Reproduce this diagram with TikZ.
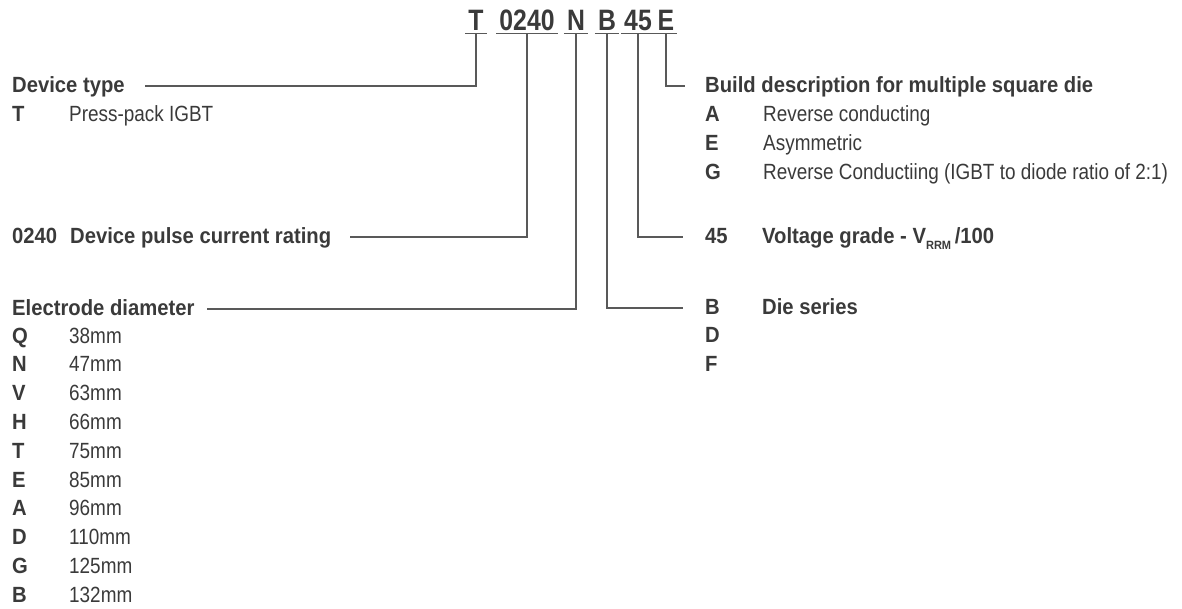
\documentclass[tikz,border=0pt]{standalone}
\usepackage{fontspec}
\setmainfont{Liberation Sans}
\newfontfamily\codefont[FakeStretch=0.84]{Liberation Sans}
\newfontfamily\headfont[FakeStretch=0.92]{Liberation Sans}
\newfontfamily\bodyfont[FakeStretch=0.86]{Liberation Sans}
\usepackage{tikz}
\usetikzlibrary{positioning, calc}
\definecolor{ktext}{HTML}{3A3A3A}
\definecolor{kline}{HTML}{595959}
\tikzset{
  code/.style={font=\codefont\bfseries\fontsize{29.5}{32}\selectfont, text=ktext, anchor=base, inner xsep=3pt, inner ysep=3pt, text depth=0pt},
  head/.style={font=\headfont\bfseries\fontsize{22}{26}\selectfont, text=ktext, anchor=base west, inner sep=0pt, text height=14pt, text depth=2pt},
  key/.style={head},
  desc/.style={font=\bodyfont\fontsize{22}{26}\selectfont, text=ktext, anchor=base west, inner sep=0pt},
  link/.style={draw=kline, line width=1.1pt},
}

\begin{document}
\begin{tikzpicture}[x=1pt, y=-1pt]
\useasboundingbox (0,0) rectangle (1182,608);
% part number
\node[code] (cT) at (476,30) {T};
\node[code] (c0240) at (527,30) {0240};
\node[code] (cN) at (576,30) {N};
\node[code] (cB) at (607,30) {B};
\node[code] (c45) at (638,30) {45};
\node[code] (cE) at (666,30) {E};
\foreach \c in {cT,c0240,cN,cB,c45,cE}
  \draw[link] (\c.south west) -- (\c.south east);
% device type
\node[head] (devtype) at (12,92) {Device type};
\node[key] (devT) at (12,121) {T};
\node[desc] (devTd) at (69,121) {Press-pack IGBT};
% pulse current
\node[key] (cur) at (12,243) {0240};
\node[head] (curtxt) at (70,243) {Device pulse current rating};
% electrode diameter
\node[head] (electrode) at (12,315) {Electrode diameter};
\foreach \k/\v [count=\i from 0] in {Q/38mm, N/47mm, V/63mm, H/66mm, T/75mm, E/85mm, A/96mm, D/110mm, G/125mm, B/132mm}{
  \node[key] (el\i) at (12,{343+28.8*\i}) {\k};
  \node[desc] (eld\i) at (69,{343+28.8*\i}) {\v};
}
% build description
\node[head] (build) at (705,92) {Build description for multiple square die};
\foreach \k/\v [count=\i from 0] in {A/{Reverse conducting}, E/{Asymmetric}, G/{Reverse Conductiing (IGBT to diode ratio of 2:1)}}{
  \node[key] (bd\i) at (705,{121+29*\i}) {\k};
  \node[desc] (bdd\i) at (763,{121+29*\i}) {\v};
}
% voltage grade
\node[key] (v45) at (705,243) {45};
\node[head] (volt) at (762,243) {Voltage grade - V\raisebox{-6pt}{\fontsize{12}{12}\selectfont RRM}\,/100};
% die series
\node[key] (dB) at (705,314) {B};
\node[head] (dietxt) at (762,314) {Die series};
\node[key] (dD) at (705,342) {D};
\node[key] (dF) at (705,371) {F};
% connectors
\draw[link] (cT.south) |- ([xshift=20pt]devtype.east);
\draw[link] (c0240.south) |- ([xshift=19pt]curtxt.east);
\draw[link] (cN.south) |- ([xshift=12pt]electrode.east);
\draw[link] (cE.south) |- ([xshift=-20pt]build.west);
\draw[link] (c45.south) |- ([xshift=-22pt]v45.west);
\draw[link] (cB.south) |- ([xshift=-22pt]dB.west);
\end{tikzpicture}
\end{document}
